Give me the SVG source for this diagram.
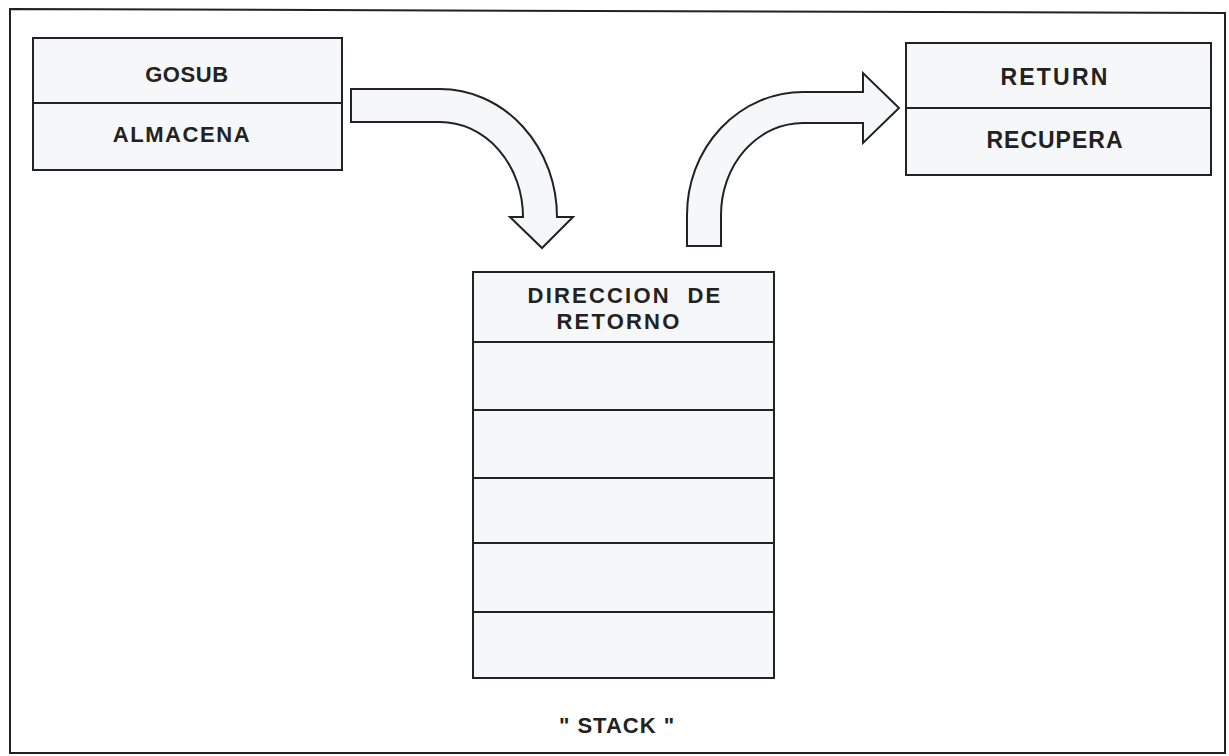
<svg xmlns="http://www.w3.org/2000/svg" width="1229" height="756" viewBox="0 0 1229 756">
<style>
.box{fill:#f6f7f9;stroke:#222;stroke-width:2}
.div{stroke:#222;stroke-width:2;fill:none}
.arrow{fill:#f6f7f9;stroke:#222;stroke-width:2;stroke-linejoin:miter}
.t{font-family:"Liberation Sans",Arial,sans-serif;font-weight:bold;font-size:22px;fill:#222;text-anchor:middle}
</style>
<rect x="0" y="0" width="1229" height="756" fill="#ffffff"/>
<path d="M10,9 L1225,13 L1225,753 L10,753 Z" fill="none" stroke="#222" stroke-width="2"/>
<g id="gosub">
<rect class="box" x="33" y="38" width="309" height="132"/>
<line class="div" x1="33" y1="103" x2="342" y2="103"/>
<text class="t" x="187" y="82" letter-spacing="0.6">GOSUB</text>
<text class="t" x="182" y="142" letter-spacing="1.6">ALMACENA</text>
</g>
<g id="return">
<rect class="box" x="906" y="43" width="305" height="132"/>
<line class="div" x1="906" y1="108" x2="1211" y2="108"/>
<text class="t" x="1055" y="85" style="font-size:23px" letter-spacing="2.2">RETURN</text>
<text class="t" x="1055" y="148" style="font-size:23px" letter-spacing="1">RECUPERA</text>
</g>
<g id="stack">
<rect class="box" x="473" y="272" width="301" height="406"/>
<line class="div" x1="473" y1="342" x2="774" y2="342"/>
<line class="div" x1="473" y1="410" x2="774" y2="410"/>
<line class="div" x1="473" y1="478" x2="774" y2="478"/>
<line class="div" x1="473" y1="543" x2="774" y2="543"/>
<line class="div" x1="473" y1="612" x2="774" y2="612"/>
<text class="t" x="625" y="303" letter-spacing="2.2" xml:space="preserve">DIRECCION  DE</text>
<text class="t" x="619" y="329" letter-spacing="2.2">RETORNO</text>
</g>
<g id="stack-label">
<text class="t" x="617" y="733" letter-spacing="1" xml:space="preserve">" STACK "</text>
</g>
<g id="connectors">
<path class="arrow" d="M351,89 L440,89 A117,128 0 0 1 557,217 L573,217 L542,248 L510,217 L523,217 A83,95 0 0 0 440,122 L351,122 Z"/>
<path class="arrow" d="M687,246 L687,215 A116,123 0 0 1 803,92 L863,92 L863,73 L899,108 L863,143 L863,123 L803,123 A82,92 0 0 0 721,215 L721,246 Z"/>
</g>
</svg>
